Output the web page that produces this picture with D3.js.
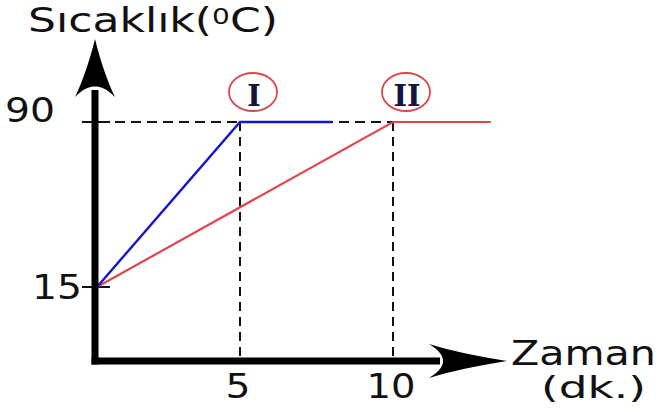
<!DOCTYPE html>
<html>
<head>
<meta charset="utf-8">
<script src="https://cdn.jsdelivr.net/npm/d3@7"></script>
<style>
  body { margin: 0; background: #fff; }
  svg { display: block; }
  text { font-family: "DejaVu Sans", Verdana, sans-serif; fill: #111; }
  .roman { font-family: "DejaVu Serif", "Liberation Serif", serif; font-weight: bold; fill: #14143c; }
</style>
</head>
<body>
<div id="chart"></div>
<script>
// data
var yTicks = [15, 90];
var xTicks = [5, 10];
var seriesI = [{x: 0, y: 15}, {x: 5, y: 90}, {x: 8, y: 90}];
var seriesII = [{x: 0, y: 15}, {x: 10, y: 90}, {x: 13.2, y: 90}];
var markers = [{label: "I", x: 5, y: 90}, {label: "II", x: 10, y: 90}];

var width = 661, height = 412;
var originX = 95, originY = 361;

var x = d3.scaleLinear()
    .domain([0, 5, 10])
    .range([97, 240, 393]);

var y = d3.scaleLinear()
    .domain([15, 90])
    .range([287, 122]);

var svg = d3.select("#chart").append("svg")
    .attr("width", width)
    .attr("height", height);

// up-pointing arrow head, tip at 0,0
function arrowHead(len, half) {
  var p = d3.path();
  p.moveTo(0, 0);
  p.bezierCurveTo(half * 0.25, len * 0.35, half * 0.6, len * 0.72, half, len);
  p.bezierCurveTo(half * 0.6, len * 0.86, half * 0.3, len * 0.82, 0, len * 0.82);
  p.bezierCurveTo(-half * 0.3, len * 0.82, -half * 0.6, len * 0.86, -half, len);
  p.bezierCurveTo(-half * 0.6, len * 0.72, -half * 0.25, len * 0.35, 0, 0);
  p.closePath();
  return p.toString();
}

// text squeezed/stretched sideways to the width it has in the picture
function label(str, px, py, size, anchor, w) {
  var t = svg.append("text")
    .attr("text-anchor", anchor || "start")
    .style("font-size", size + "px")
    .text(str);
  var bw = t.node().getBBox().width;
  var s = w ? w / bw : 1;
  t.attr("transform", "translate(" + px + "," + py + ") scale(" + s + ",1)");
  return t;
}

// dashed guides
var guides = svg.append("g")
    .attr("fill", "none")
    .attr("stroke", "#111")
    .attr("stroke-width", 2);

guides.append("line")
    .attr("x1", originX + 4).attr("x2", x(10))
    .attr("y1", y(90)).attr("y2", y(90))
    .attr("stroke-dasharray", "10,6");

guides.selectAll(".vguide")
  .data(xTicks)
  .enter().append("line")
    .attr("class", "vguide")
    .attr("x1", function(d) { return x(d); })
    .attr("x2", function(d) { return x(d); })
    .attr("y1", y(90))
    .attr("y2", originY)
    .attr("stroke-dasharray", "9,6");

// tick marks
svg.selectAll(".ytick")
  .data(yTicks)
  .enter().append("line")
    .attr("class", "ytick")
    .attr("x1", originX - 13).attr("x2", originX + 15)
    .attr("y1", function(d) { return y(d); })
    .attr("y2", function(d) { return y(d); })
    .attr("stroke", "#111")
    .attr("stroke-width", 2);

// lines
var line = d3.line()
    .x(function(d) { return x(d.x); })
    .y(function(d) { return y(d.y); });

svg.append("path")
    .datum(seriesII)
    .attr("fill", "none")
    .attr("stroke", "#e0474c")
    .attr("stroke-width", 2.2)
    .attr("d", line);

svg.append("path")
    .datum(seriesI)
    .attr("fill", "none")
    .attr("stroke", "#1515cc")
    .attr("stroke-width", 2.4)
    .attr("d", line);

// axes
svg.append("line")
    .attr("x1", originX).attr("x2", originX)
    .attr("y1", originY + 3.5).attr("y2", 90)
    .attr("stroke", "#000")
    .attr("stroke-width", 7);

svg.append("line")
    .attr("x1", originX - 3.5).attr("x2", 440)
    .attr("y1", originY).attr("y2", originY)
    .attr("stroke", "#000")
    .attr("stroke-width", 7);

svg.append("path")
    .attr("d", arrowHead(58, 20))
    .attr("transform", "translate(" + originX + ",39)")
    .attr("fill", "#000");

svg.append("path")
    .attr("d", arrowHead(78, 17))
    .attr("transform", "translate(507," + originY + ") rotate(90)")
    .attr("fill", "#000");

// tick labels
label(yTicks[0], 82, y(yTicks[0]) + 12, 33, "end", 50);
label(yTicks[1], 55, y(yTicks[1]), 33, "end", 50);
label(xTicks[0], x(xTicks[0]) - 2, 398, 34, "middle", 25);
label(xTicks[1], x(xTicks[1]) - 2, 398, 34, "middle", 49);

// axis titles
var title = label("Sıcaklık(", 28, 32, 33, "start");
title.append("tspan")
    .attr("dy", -8)
    .style("font-size", "21px")
    .text("0");
title.append("tspan")
    .attr("dy", 8)
    .text("C)");
var tw = title.node().getBBox().width;
title.attr("transform", "translate(28,32) scale(" + (250 / tw) + ",1)");

label("Zaman", 511, 365, 34, "start", 145);
label("(dk.)", 541, 398, 31, "start", 105);

// circled markers
var mk = svg.selectAll(".marker")
  .data(markers)
  .enter().append("g")
    .attr("class", "marker")
    .attr("transform", function(d) { return "translate(" + (x(d.x) + 13) + "," + (y(d.y) - 30) + ")"; });

mk.append("ellipse")
    .attr("rx", 24)
    .attr("ry", 19)
    .attr("fill", "none")
    .attr("stroke", "#d9484c")
    .attr("stroke-width", 1.8);

mk.append("text")
    .attr("class", "roman")
    .attr("text-anchor", "middle")
    .attr("x", 1)
    .attr("y", 14)
    .style("font-size", "29px")
    .text(function(d) { return d.label; });
</script>
</body>
</html>
